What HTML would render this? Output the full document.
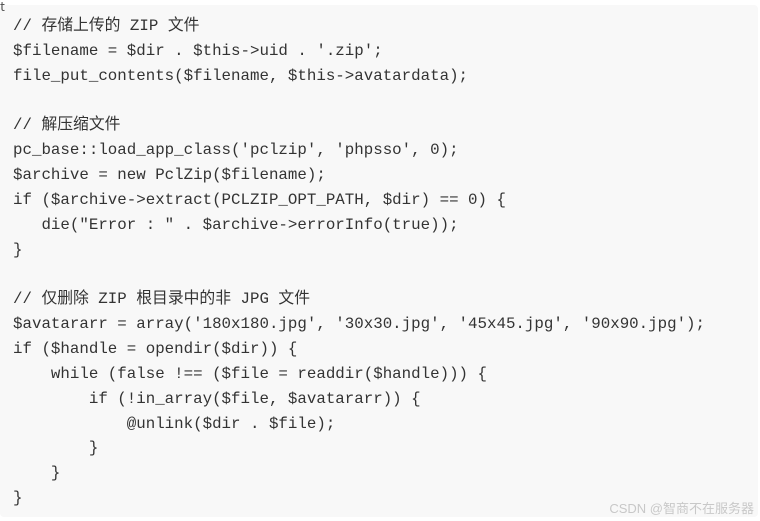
<!DOCTYPE html>
<html><head><meta charset="utf-8"><style>
html,body{margin:0;padding:0;background:#fff;width:760px;height:521px;overflow:hidden;position:relative}
.box{position:absolute;left:0;top:5px;width:758px;height:512px;background:#f8f8f8;border-radius:4px}
pre{position:absolute;left:13px;top:14px;margin:0;font-family:"Liberation Mono","Noto Sans CJK SC",monospace;font-size:15.8px;line-height:24.85px;color:#333}
.mark{position:absolute;left:0;top:-4px;font-family:"Noto Sans CJK SC",sans-serif;font-size:13px;color:#555}
.wm{position:absolute;right:6px;top:498px;font-family:"Liberation Sans","Noto Sans CJK SC",sans-serif;font-size:13px;color:#c8c8c8}
</style></head><body>
<div class="box"></div>
<div class="mark">t</div>
<pre>// 存储上传的 ZIP 文件
$filename = $dir . $this->uid . '.zip';
file_put_contents($filename, $this->avatardata);

// 解压缩文件
pc_base::load_app_class('pclzip', 'phpsso', 0);
$archive = new PclZip($filename);
if ($archive->extract(PCLZIP_OPT_PATH, $dir) == 0) {
   die("Error : " . $archive->errorInfo(true));
}

// 仅删除 ZIP 根目录中的非 JPG 文件
$avatararr = array('180x180.jpg', '30x30.jpg', '45x45.jpg', '90x90.jpg');
if ($handle = opendir($dir)) {
    while (false !== ($file = readdir($handle))) {
        if (!in_array($file, $avatararr)) {
            @unlink($dir . $file);
        }
    }
}</pre>
<div class="wm">CSDN @智商不在服务器</div>
</body></html>
